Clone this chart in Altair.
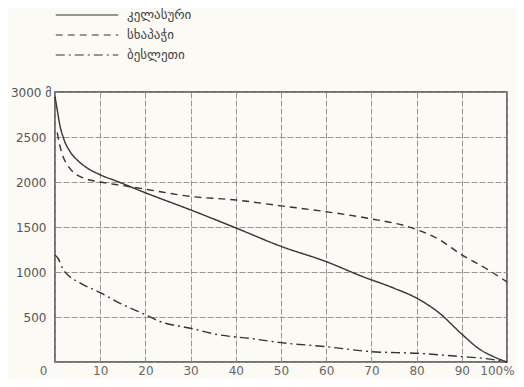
import altair as alt
import pandas as pd

names = ["კელასური", "სხაპაჭი", "ბესლეთი"]

kel_x = [0, 0.5, 1, 2, 3.3, 5, 7, 10, 13.6, 20, 30, 40, 50, 60, 68, 75, 80, 85, 90, 94, 97, 100]
kel_y = [2950, 2800, 2650, 2470, 2340, 2240, 2160, 2080, 2010, 1880, 1690, 1490, 1285, 1115, 950, 820, 710, 545, 310, 140, 60, 0]

skh_x = [0.5, 1, 1.8, 3, 4, 6.3, 10, 15, 20, 30, 40, 50, 60, 70, 79, 85, 90, 95, 100]
skh_y = [2550, 2420, 2281, 2170, 2110, 2045, 2000, 1960, 1920, 1840, 1800, 1735, 1670, 1590, 1490, 1360, 1190, 1050, 890]

bes_x = [0, 0.7, 1.8, 3, 5.5, 10, 14.4, 20, 23.2, 30, 36.5, 43, 50, 60, 70, 80, 90, 95, 100]
bes_y = [1190, 1150, 1030, 960, 880, 770, 652, 525, 450, 375, 300, 263, 215, 170, 115, 97, 60, 40, 0]

x_ticks = [0, 10, 20, 30, 40, 50, 60, 70, 80, 90, 100]
y_ticks = [0, 500, 1000, 1500, 2000, 2500, 3000]

rows = []
for n, xs, ys in [(names[0], kel_x, kel_y), (names[1], skh_x, skh_y), (names[2], bes_x, bes_y)]:
    for i, (a, b) in enumerate(zip(xs, ys)):
        rows.append({"series": n, "x": a, "y": b, "order": i})
df = pd.DataFrame(rows)

chart = alt.Chart(df).mark_line(interpolate="monotone", color="#333333", strokeWidth=1.4).encode(
    x=alt.X("x:Q", scale=alt.Scale(domain=[0, 100], nice=False),
            axis=alt.Axis(values=x_ticks, title=None, ticks=False, domain=False,
                          labelExpr="datum.value == 100 ? '100%' : datum.label",
                          labelFlush=False,
                          labelOffset={"expr": "datum.value == 0 ? -12 : (datum.value == 100 ? -10 : 0)"},
                          labelPadding=3, labelFontSize=12, labelColor="#666",
                          gridColor="#8a8a8a", gridDash=[6, 2], gridWidth=1, gridOpacity=0.9)),
    y=alt.Y("y:Q", scale=alt.Scale(domain=[0, 3000], nice=False),
            axis=alt.Axis(values=y_ticks, title=None, ticks=False, domain=False,
                          labelExpr="datum.value == 3000 ? '3000 მ' : (datum.value == 0 ? '' : datum.value)",
                          labelPadding={"expr": "datum.value == 3000 ? 4 : 9"},
                          labelFontSize=12, labelColor="#555",
                          gridColor="#8a8a8a", gridDash=[6, 2], gridWidth=1, gridOpacity=0.9)),
    strokeDash=alt.StrokeDash("series:N",
                              scale=alt.Scale(domain=names, range=[[1, 0], [7, 5], [9, 4, 2, 4]]),
                              legend=alt.Legend(title=None, orient="none", legendX=0, legendY=-87,
                                                symbolType="stroke", symbolSize=3900,
                                                symbolStrokeColor="#333333", symbolStrokeWidth=1.2,
                                                clipHeight=20, rowPadding=0, padding=0,
                                                labelFontSize=13, labelColor="#444", labelOffset=8,
                                                labelFont="DejaVu Sans")),
    order="order:Q",
).properties(
    width=452, height=270,
    autosize=alt.AutoSizeParams(type="none"),
    padding={"left": 47, "top": 84, "right": 9, "bottom": 17},
    background="#fbfaf4",
).configure_view(
    stroke="#444", strokeWidth=1.5
).configure_axis(
    labelFont="DejaVu Sans"
)

chart.save("out.html", embed_options={"renderer": "svg", "actions": False})
